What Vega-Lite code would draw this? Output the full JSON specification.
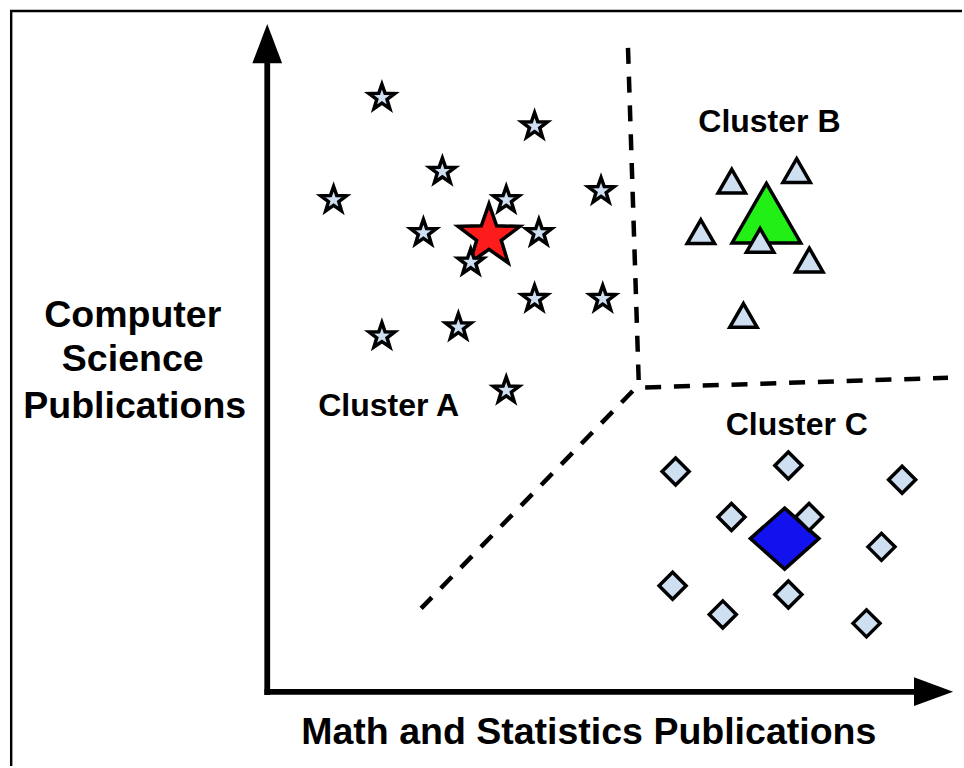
{
  "$schema": "https://vega.github.io/schema/vega-lite/v6.json",
  "width": 964,
  "height": 768,
  "autosize": {"type": "fit", "contains": "padding"},
  "padding": 0,
  "background": "white",
  "config": {"view": {"stroke": null}},
  "datasets": {
    "frameLines": [
      {"x": 11.2, "y": 10, "x2": 11.2, "y2": 768},
      {"x": 10, "y": 11, "x2": 964, "y2": 11}
    ],
    "axisLines": [
      {"x": 267.8, "y": 696.8, "x2": 267.8, "y2": 60},
      {"x": 265, "y": 693.7, "x2": 920, "y2": 693.7}
    ],
    "arrowHeads": [
      {"dir": "up", "x": 267.8, "y": 43.7},
      {"dir": "right", "x": 935.5, "y": 693.5}
    ],
    "dividers": [
      {"seg": 1, "pt": 1, "x": 629.3, "y": 48},
      {"seg": 1, "pt": 2, "x": 640, "y": 381},
      {"seg": 2, "pt": 1, "x": 646.5, "y": 388.4},
      {"seg": 2, "pt": 2, "x": 950, "y": 378.8},
      {"seg": 3, "pt": 1, "x": 634, "y": 392},
      {"seg": 3, "pt": 2, "x": 422, "y": 610}
    ],
    "points": [
      {"group": "A member", "x": 507.3, "y": 200.5},
      {"group": "A centroid", "x": 490, "y": 237},
      {"group": "A member", "x": 382.7, "y": 98},
      {"group": "A member", "x": 535.7, "y": 126.5},
      {"group": "A member", "x": 443.3, "y": 172},
      {"group": "A member", "x": 334.3, "y": 200.5},
      {"group": "A member", "x": 602.3, "y": 191.5},
      {"group": "A member", "x": 424.3, "y": 233.5},
      {"group": "A member", "x": 540, "y": 233.5},
      {"group": "A member", "x": 471.7, "y": 263},
      {"group": "A member", "x": 535.7, "y": 299.5},
      {"group": "A member", "x": 604, "y": 299.5},
      {"group": "A member", "x": 382.7, "y": 337},
      {"group": "A member", "x": 459.3, "y": 328},
      {"group": "A member", "x": 507.3, "y": 391.5},
      {"group": "B centroid", "x": 768, "y": 213.7},
      {"group": "B member", "x": 733.3, "y": 181.7},
      {"group": "B member", "x": 798.3, "y": 171},
      {"group": "B member", "x": 702.3, "y": 232.3},
      {"group": "B member", "x": 761.7, "y": 241},
      {"group": "B member", "x": 811, "y": 260.7},
      {"group": "B member", "x": 745, "y": 316.3},
      {"group": "C centroid", "x": 786.3, "y": 540},
      {"group": "C member", "x": 677, "y": 472.7},
      {"group": "C member", "x": 790, "y": 466.7},
      {"group": "C member", "x": 904, "y": 481},
      {"group": "C member", "x": 733, "y": 518.3},
      {"group": "C member", "x": 810.7, "y": 518.3},
      {"group": "C member", "x": 883.3, "y": 548.3},
      {"group": "C member", "x": 674, "y": 587.3},
      {"group": "C member", "x": 790, "y": 596},
      {"group": "C member", "x": 724.3, "y": 616},
      {"group": "C member", "x": 868.3, "y": 625}
    ],
    "axisTitles": [
      {"label": "Computer", "x": 133, "y": 328},
      {"label": "Science", "x": 133, "y": 372},
      {"label": "Publications", "x": 135, "y": 419},
      {"label": "Math and Statistics Publications", "x": 590, "y": 746}
    ],
    "clusterTitles": [
      {"label": "Cluster A", "x": 389.5, "y": 417},
      {"label": "Cluster B", "x": 771, "y": 132},
      {"label": "Cluster C", "x": 798.5, "y": 436}
    ]
  },
  "encoding": {
    "x": {"field": "x", "type": "quantitative", "scale": {"domain": [0, 964], "nice": false, "zero": false}, "axis": null},
    "y": {"field": "y", "type": "quantitative", "scale": {"domain": [0, 768], "reverse": true, "nice": false, "zero": false}, "axis": null}
  },
  "layer": [
    {
      "data": {"name": "frameLines"},
      "mark": {"type": "rule", "color": "black", "strokeWidth": 2.4},
      "encoding": {"x2": {"field": "x2"}, "y2": {"field": "y2"}}
    },
    {
      "data": {"name": "dividers"},
      "mark": {"type": "line", "color": "black", "strokeWidth": 4.5, "strokeDash": [16, 12.8]},
      "encoding": {
        "detail": {"field": "seg", "type": "nominal"},
        "order": {"field": "pt", "type": "quantitative"}
      }
    },
    {
      "data": {"name": "axisLines"},
      "mark": {"type": "rule", "color": "black", "strokeWidth": 5.8},
      "encoding": {"x2": {"field": "x2"}, "y2": {"field": "y2"}}
    },
    {
      "data": {"name": "arrowHeads"},
      "mark": {"type": "point", "filled": true, "opacity": 1, "fill": "black", "strokeWidth": 0, "size": 1530},
      "encoding": {
        "shape": {"field": "dir", "type": "nominal", "scale": {"domain": ["up", "right"], "range": ["M0,-1L0.76,1L-0.76,1Z", "M1,0L-1,0.735L-1,-0.735Z"]}, "legend": null}
      }
    },
    {
      "data": {"name": "points"},
      "mark": {"type": "point", "filled": true, "opacity": 1, "stroke": "black", "strokeWidth": 3.5, "strokeJoin": "miter", "size": 4900},
      "encoding": {
        "shape": {"field": "group", "type": "nominal", "scale": {
          "domain": ["A member", "A centroid", "B member", "B centroid", "C member", "C centroid"],
          "range": [
            "M0,-0.386L0.0907,-0.1251L0.3671,-0.1193L0.1467,0.0479L0.227,0.3123L0,0.1544L-0.227,0.3123L-0.1467,0.0479L-0.3671,-0.1193L-0.0907,-0.1251Z",
            "M0,-0.929L0.2183,-0.301L0.8835,-0.2871L0.353,0.1152L0.5463,0.7516L0,0.3716L-0.5463,0.7516L-0.353,0.1152L-0.8835,-0.2871L-0.2183,-0.301Z",
            "M0,-0.339L0.391,0.339L-0.391,0.339Z",
            "M0,-0.85L0.981,0.85L-0.981,0.85Z",
            "M-0.386,0L0,-0.386L0.386,0L0,0.386Z",
            "M-0.98,0L0,-0.872L0.98,0L0,0.872Z"
          ]}, "legend": null},
        "fill": {"field": "group", "type": "nominal", "scale": {
          "domain": ["A member", "A centroid", "B member", "B centroid", "C member", "C centroid"],
          "range": ["#cfdff2", "#fd1c1c", "#cfdff2", "#22ef16", "#cfdff2", "#1212ee"]}, "legend": null}
      }
    },
    {
      "data": {"name": "axisTitles"},
      "mark": {"type": "text", "font": "Liberation Sans", "fontWeight": "bold", "fontSize": 37.5, "align": "center", "baseline": "alphabetic", "color": "black"},
      "encoding": {"text": {"field": "label", "type": "nominal"}}
    },
    {
      "data": {"name": "clusterTitles"},
      "mark": {"type": "text", "font": "Liberation Sans", "fontWeight": "bold", "fontSize": 32, "align": "center", "baseline": "alphabetic", "color": "black"},
      "encoding": {"text": {"field": "label", "type": "nominal"}}
    }
  ],
  "resolve": {"scale": {"shape": "independent"}}
}
